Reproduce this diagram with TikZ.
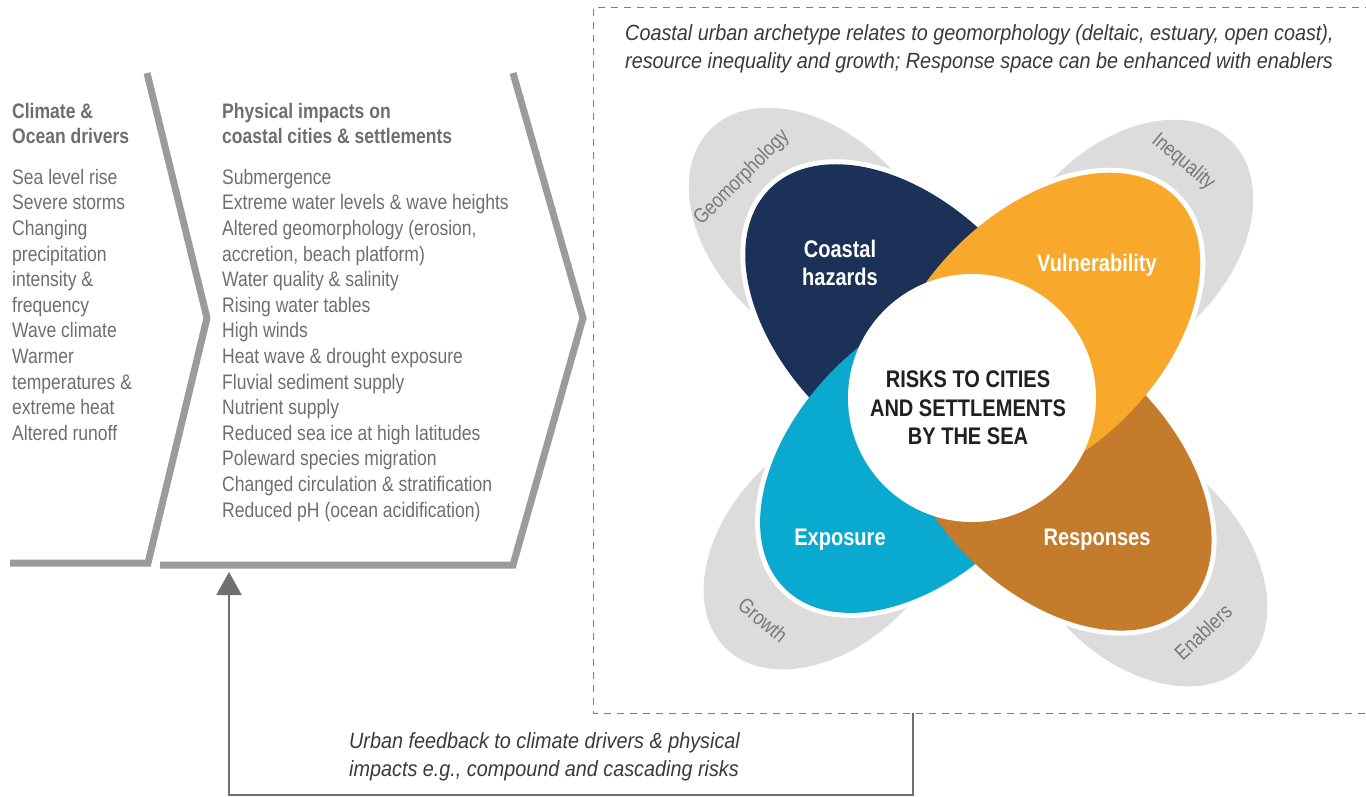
\documentclass[tikz,border=0pt]{standalone}
\usepackage{fontspec}
\setmainfont{Liberation Sans}[FakeStretch=0.835]
\newfontfamily\notefont{Liberation Sans}[FakeStretch=0.9]
\usepackage{tikz}
\usetikzlibrary{arrows.meta}
\usetikzlibrary{positioning,calc}

\definecolor{chevgray}{HTML}{9B9B9F}
\definecolor{txtgray}{HTML}{6D6E71}
\definecolor{notegray}{HTML}{3A3A3C}
\definecolor{fbgray}{HTML}{707072}
\definecolor{dashgray}{HTML}{7F7F7F}
\definecolor{petalgray}{HTML}{DCDCDC}
\definecolor{lblgray}{HTML}{77787B}
\definecolor{hazardblue}{HTML}{1B3158}
\definecolor{vulnorange}{HTML}{F8A82A}
\definecolor{exposcyan}{HTML}{0AA9CF}
\definecolor{respbrown}{HTML}{C47B2B}
\definecolor{riskblack}{HTML}{231F20}

\tikzset{
    chevron/.style={draw=chevgray, line width=7pt, miter limit=10},
    bodytext/.style={font=\fontsize{21}{25.6}\selectfont, text=txtgray, align=left, anchor=north west, inner sep=0pt},
    headtext/.style={bodytext, font=\bfseries\fontsize{21}{25}\selectfont},
    notetext/.style={font=\notefont\itshape\fontsize{22}{28}\selectfont, text=notegray, align=left, anchor=north west, inner sep=0pt},
    petallbl/.style={font=\bfseries\fontsize{24}{28}\selectfont, text=white, align=center, inner sep=0pt},
    greylbl/.style={font=\fontsize{21}{25}\selectfont, text=lblgray, inner sep=0pt},
    fbarrow/.style={draw=fbgray, line width=2pt, -{Triangle[length=23pt, width=25pt]}}
}

\begin{document}
\begin{tikzpicture}[x=1pt, y=-1pt]
    \useasboundingbox (0,0) rectangle (1366,797);

    \coordinate (C) at (977,396);

    % dashed frame of the archetype panel
    \draw[dashgray, line width=1pt, dash pattern=on 7pt off 6pt] (1372,8) -- (593,8) -- (593,713) -- (1372,713);

    % chevrons
    \draw[chevron] (10,563) -- (148,563) -- (207,318) -- (147,73);
    \draw[chevron] (160,565) -- (513,565) -- (583,318) -- (513,73);

    \node[headtext] (drvhead) at (12,103) {Climate \&\\Ocean drivers};
    \node[bodytext, below=25pt of drvhead.south west, anchor=north west] (drvlist)
        {Sea level rise\\Severe storms\\Changing\\precipitation\\intensity \&\\frequency\\Wave climate\\Warmer\\temperatures \&\\extreme heat\\Altered runoff};

    \node[headtext] (imphead) at (222,103) {Physical impacts on\\coastal cities \& settlements};
    \node[bodytext, below=25pt of imphead.south west, anchor=north west] (implist)
        {Submergence\\Extreme water levels \& wave heights\\Altered geomorphology (erosion,\\accretion, beach platform)\\Water quality \& salinity\\Rising water tables\\High winds\\Heat wave \& drought exposure\\Fluvial sediment supply\\Nutrient supply\\Reduced sea ice at high latitudes\\Poleward species migration\\Changed circulation \& stratification\\Reduced pH (ocean acidification)};

    \node[notetext] (archnote) at (625,24)
        {Coastal urban archetype relates to geomorphology (deltaic, estuary, open coast),\\resource inequality and growth; Response space can be enhanced with enablers};

    % grey outer petals
    \foreach \ang/\off in {135/229, 45/212, -135/208, -45/232}
    {
        \fill[petalgray, shift={(C)}, rotate=\ang] (\off pt,0pt) ellipse [x radius=148pt, y radius=100pt];
    }
    % white halo, then coloured petals
    \foreach \ang/\off in {135/103, 45/91, -135/82, -45/107}
    {
        \draw[white, line width=10pt, shift={(C)}, rotate=\ang] (\off pt,0pt) ellipse [x radius=190pt, y radius=120pt];
    }
    \foreach \ang/\off/\col in {135/103/hazardblue, -135/82/exposcyan, -45/107/respbrown, 45/91/vulnorange}
    {
        \fill[\col, shift={(C)}, rotate=\ang] (\off pt,0pt) ellipse [x radius=190pt, y radius=120pt];
    }

    \node[circle, fill=white, minimum size=248pt, inner sep=0pt] (hub) at (972,398) {};
    \node[font=\bfseries\fontsize{24}{28.5}\selectfont, text=riskblack, align=center, inner sep=0pt] (risklbl) at (968,408)
        {RISKS TO CITIES\\AND SETTLEMENTS\\BY THE SEA};

    \node[petallbl] (hazlbl) at (840,263) {Coastal\\hazards};
    \node[petallbl] (vullbl) at (1097,265) {Vulnerability};
    \node[petallbl] (explbl) at (840,540) {Exposure};
    \node[petallbl] (reslbl) at (1097,540) {Responses};

    \node[greylbl, rotate=45] (geolbl) at (742,178) {Geomorphology};
    \node[greylbl, rotate=-40] (ineqlbl) at (1183,162) {Inequality};
    \node[greylbl, rotate=-40] (growlbl) at (763,620) {Growth};
    \node[greylbl, rotate=43] (enablbl) at (1203,632) {Enablers};

    % urban feedback loop
    \coordinate (fbstart) at (913,713);
    \coordinate (impbase) at (229,572);
    \draw[fbarrow] (fbstart) -- ++(0,82) -| (impbase);
    \node[notetext] (fbnote) at (349,732)
        {Urban feedback to climate drivers \& physical\\impacts e.g., compound and cascading risks};
\end{tikzpicture}
\end{document}
